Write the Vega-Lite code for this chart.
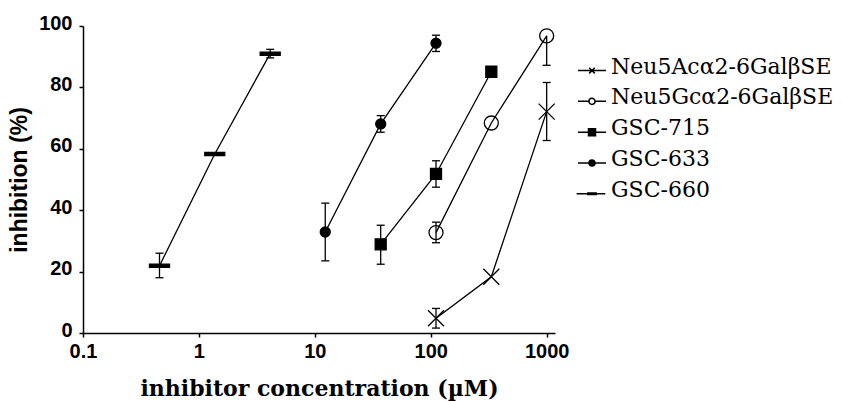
{
  "$schema": "https://vega.github.io/schema/vega-lite/v6.json",
  "width": 472,
  "height": 307,
  "autosize": {"type": "none"},
  "padding": {"left": 83, "top": 26, "right": 287, "bottom": 68},
  "background": "white",
  "config": {
    "view": {"stroke": null},
    "axis": {
      "grid": false,
      "domainColor": "black",
      "domainWidth": 1.5,
      "tickColor": "black",
      "tickWidth": 1.5,
      "tickSize": 4,
      "labelColor": "black",
      "titleColor": "black",
      "labelFont": "Liberation Sans",
      "labelFontWeight": "bold",
      "labelFontSize": 20,
      "labelFlush": false,
      "labelOverlap": false
    }
  },
  "data": {
    "values": [
      {"series": "GSC-660", "conc": 0.457, "inh": 21.9, "lo": 18.0, "hi": 26.0},
      {"series": "GSC-660", "conc": 1.37, "inh": 58.3, "lo": null, "hi": null},
      {"series": "GSC-660", "conc": 4.12, "inh": 91.0, "lo": 89.6, "hi": 92.4},
      {"series": "GSC-633", "conc": 12.3, "inh": 32.9, "lo": 23.5, "hi": 42.3},
      {"series": "GSC-633", "conc": 37.0, "inh": 68.1, "lo": 65.4, "hi": 70.8},
      {"series": "GSC-633", "conc": 111, "inh": 94.4, "lo": 91.7, "hi": 97.0},
      {"series": "GSC-715", "conc": 37.0, "inh": 28.9, "lo": 22.4, "hi": 35.1},
      {"series": "GSC-715", "conc": 111, "inh": 51.8, "lo": 47.5, "hi": 56.1},
      {"series": "GSC-715", "conc": 333, "inh": 85.1, "lo": null, "hi": null},
      {"series": "Neu5Gcα2-6GalβSE", "conc": 111, "inh": 32.7, "lo": 29.4, "hi": 36.1},
      {"series": "Neu5Gcα2-6GalβSE", "conc": 333, "inh": 68.4, "lo": null, "hi": null},
      {"series": "Neu5Gcα2-6GalβSE", "conc": 1000, "inh": 96.8, "lo": 87.2, "hi": 96.8},
      {"series": "Neu5Acα2-6GalβSE", "conc": 111, "inh": 4.8, "lo": 1.6, "hi": 8.0},
      {"series": "Neu5Acα2-6GalβSE", "conc": 333, "inh": 18.3, "lo": null, "hi": null},
      {"series": "Neu5Acα2-6GalβSE", "conc": 1000, "inh": 72.1, "lo": 62.7, "hi": 81.6}
    ]
  },
  "encoding": {
    "x": {
      "field": "conc",
      "type": "quantitative",
      "scale": {"type": "log", "domain": [0.1, 1180], "nice": false},
      "axis": {
        "values": [0.1, 1, 10, 100, 1000],
        "format": "~g",
        "labelPadding": 4,
        "title": "inhibitor concentration (µM)",
        "titleFont": "DejaVu Serif",
        "titleFontWeight": "bold",
        "titleFontSize": 22,
        "titlePadding": 17
      }
    },
    "y": {
      "field": "inh",
      "type": "quantitative",
      "scale": {"domain": [0, 100], "nice": false},
      "axis": {
        "values": [0, 20, 40, 60, 80, 100],
        "format": "d",
        "labelPadding": 7,
        "labelOffset": -3,
        "title": "inhibition (%)",
        "titleFont": "Liberation Sans",
        "titleFontWeight": "bold",
        "titleFontSize": 23,
        "titlePadding": 7
      }
    }
  },
  "layer": [
    {
      "mark": {"type": "line", "color": "black", "strokeWidth": 1.3},
      "encoding": {"detail": {"field": "series"}}
    },
    {
      "transform": [{"filter": "datum.lo != null"}],
      "mark": {"type": "rule", "color": "black", "strokeWidth": 1.3},
      "encoding": {
        "y": {"field": "lo", "type": "quantitative"},
        "y2": {"field": "hi"}
      }
    },
    {
      "transform": [{"filter": "datum.lo != null"}],
      "mark": {"type": "tick", "orient": "horizontal", "size": 8, "thickness": 1.3, "color": "black", "opacity": 1},
      "encoding": {"y": {"field": "lo", "type": "quantitative"}}
    },
    {
      "transform": [{"filter": "datum.hi != null && datum.hi > datum.inh"}],
      "mark": {"type": "tick", "orient": "horizontal", "size": 8, "thickness": 1.3, "color": "black", "opacity": 1},
      "encoding": {"y": {"field": "hi", "type": "quantitative"}}
    },
    {
      "mark": {"type": "point", "filled": true, "stroke": "black", "strokeWidth": 1.3, "size": 400, "opacity": 1},
      "encoding": {
        "shape": {
          "field": "series",
          "type": "nominal",
          "scale": {
            "domain": ["Neu5Acα2-6GalβSE", "Neu5Gcα2-6GalβSE", "GSC-715", "GSC-633", "GSC-660"],
            "range": [
              "M-0.8,-0.8L0.8,0.8M-0.8,0.8L0.8,-0.8",
              "M0.7,0A0.7,0.7,0,1,1,-0.7,0A0.7,0.7,0,1,1,0.7,0Z",
              "M-0.55,-0.55H0.55V0.55H-0.55Z",
              "M0.5,0A0.5,0.5,0,1,1,-0.5,0A0.5,0.5,0,1,1,0.5,0Z",
              "M-1,-0.16H1V0.16H-1Z"
            ]
          },
          "legend": null
        },
        "fill": {
          "field": "series",
          "type": "nominal",
          "scale": {
            "domain": ["Neu5Acα2-6GalβSE", "Neu5Gcα2-6GalβSE", "GSC-715", "GSC-633", "GSC-660"],
            "range": ["black", "transparent", "black", "black", "black"]
          },
          "legend": null
        }
      }
    },
    {
      "transform": [{"filter": "datum.conc < 0"}],
      "mark": {"type": "point", "filled": true, "stroke": "black", "strokeWidth": 1.3, "size": 784, "opacity": 1},
      "encoding": {
        "shape": {
          "field": "series",
          "type": "nominal",
          "scale": {
            "domain": ["Neu5Acα2-6GalβSE", "Neu5Gcα2-6GalβSE", "GSC-715", "GSC-633", "GSC-660"],
            "range": [
              "M-1,-0.21H1M-0.2,-0.41L0.2,-0.01M-0.2,-0.01L0.2,-0.41",
              "M-1,-0.21H-0.22M0.22,-0.21H1M0.22,-0.21A0.22,0.22,0,1,1,-0.22,-0.21A0.22,0.22,0,1,1,0.22,-0.21Z",
              "M-1,-0.21H1M-0.25,-0.46H0.25V0.04H-0.25Z",
              "M-1,-0.21H1M0.22,-0.21A0.22,0.22,0,1,1,-0.22,-0.21A0.22,0.22,0,1,1,0.22,-0.21Z",
              "M-1.1,-0.21H0.95M-0.3,-0.26H0.3V-0.16H-0.3Z"
            ]
          },
          "legend": {
            "title": null,
            "orient": "none",
            "legendX": 494,
            "legendY": 32.5,
            "padding": 0,
            "symbolSize": 784,
            "rowPadding": 8.8,
            "labelFont": "DejaVu Serif",
            "labelFontSize": 22,
            "labelColor": "black",
            "labelOffset": 4,
            "labelLimit": 400,
            "labelBaseline": "alphabetic"
          }
        },
        "fill": {
          "field": "series",
          "type": "nominal",
          "scale": {
            "domain": ["Neu5Acα2-6GalβSE", "Neu5Gcα2-6GalβSE", "GSC-715", "GSC-633", "GSC-660"],
            "range": ["black", "white", "black", "black", "black"]
          }
        }
      }
    }
  ],
  "resolve": {
    "scale": {"shape": "independent", "fill": "independent"},
    "legend": {"shape": "independent", "fill": "independent"}
  }
}
